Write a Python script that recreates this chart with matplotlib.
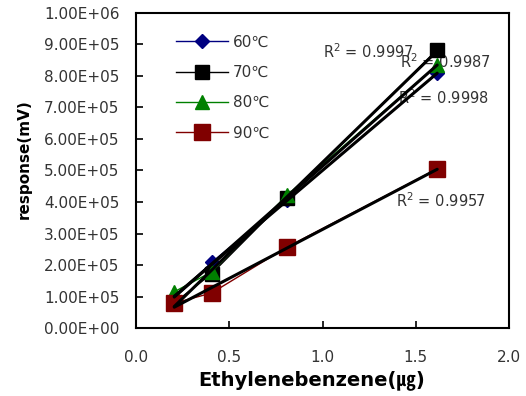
import matplotlib
matplotlib.use("Agg")
import matplotlib.pyplot as plt
import numpy as np
from matplotlib.ticker import FuncFormatter, MultipleLocator

plt.rcParams['font.family'] = ['DejaVu Sans', 'Noto Sans CJK KR']

# ---- data ----
amount = [0.205, 0.405, 0.81, 1.615]
labels = ['60℃', '70℃', '80℃', '90℃']
resp_60 = [95000, 208000, 405000, 808000]
resp_70 = [80000, 172000, 413000, 883000]
resp_80 = [115000, 178000, 422000, 835000]
resp_90 = [79000, 111000, 257000, 505000]
r2_texts = ['0.9997', '0.9987', '0.9998', '0.9957']

series = [resp_60, resp_70, resp_80, resp_90]
colors = ['#000080', '#000000', '#008000', '#800000']
markers = ['D', 's', '^', 's']
msizes = [7.5, 9.5, 10, 12]

fig = plt.figure(figsize=(5.26, 3.96), dpi=100)
ax = fig.add_axes([0.2586, 0.1717, 0.7091, 0.7955])

x = np.array(amount)
for vals, c, m, ms, lab in zip(series, colors, markers, msizes, labels):
    ax.plot(x, vals, color=c, lw=1.0, marker=m, ms=ms, mec=c, mfc=c, label=lab, zorder=2)

# linear trendlines
for vals in series:
    k, b = np.polyfit(x, np.array(vals, dtype=float), 1)
    ax.plot([x[0], x[-1]], [k * x[0] + b, k * x[-1] + b], color='black', lw=2.2,
            solid_capstyle='round', zorder=3)

# R^2 annotations
r2_pos = [(1.005, 876000), (1.415, 846000), (1.405, 730000), (1.395, 405000)]
for (tx, ty), t in zip(r2_pos, r2_texts):
    ax.text(tx, ty, 'R$^2$ = ' + t, fontsize=10.5, color='#333333', va='center', ha='left',
            zorder=1)

ax.set_xlim(0, 2.0)
ax.set_ylim(0, 1.0e6)
ax.xaxis.set_major_locator(MultipleLocator(0.5))
ax.yaxis.set_major_locator(MultipleLocator(1e5))
ax.xaxis.set_major_formatter(FuncFormatter(lambda v, p: f'{v:.1f}'))
ax.yaxis.set_major_formatter(FuncFormatter(lambda v, p: f'{v:.2E}'))

for sp in ax.spines.values():
    sp.set_linewidth(1.5)
ax.tick_params(direction='in', length=5, width=1.2, labelsize=11, labelcolor='#333333')
ax.tick_params(axis='x', pad=16)
ax.tick_params(axis='y', pad=12)

ax.set_xlabel('Ethylenebenzene(㎍)', fontsize=14, fontweight='bold')
ax.xaxis.set_label_coords(0.47, -0.135)
ax.set_ylabel('response(mV)', fontsize=11, fontweight='bold')
ax.yaxis.set_label_coords(-0.279, 0.536)

leg = ax.legend(loc='upper left', bbox_to_anchor=(0.07, 0.975), frameon=False, fontsize=11,
                handlelength=3.4, labelspacing=1.0, handletextpad=0.35, markerscale=1.0)
for t in leg.get_texts():
    t.set_color('#333333')

fig.savefig('out.png', dpi=100)
